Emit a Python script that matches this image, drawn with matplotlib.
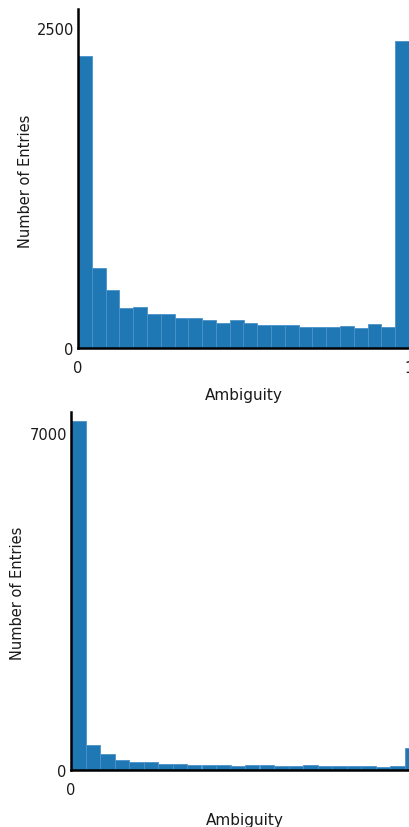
import numpy as np
import matplotlib
matplotlib.use("Agg")
import matplotlib.pyplot as plt

# ambiguity histograms, 24 bins between 0 and 1
edges = np.linspace(0, 1, 25)
top_counts = [2286, 625, 455, 315, 320, 265, 265, 234, 234, 216, 198, 216,
              192, 177, 180, 177, 166, 166, 166, 170, 156, 190, 166, 2403]
bottom_counts = [7250, 520, 330, 215, 165, 160, 120, 120, 110, 95, 100, 90,
                 95, 95, 90, 90, 95, 80, 80, 75, 85, 70, 75, 460]
top_yticks = [0, 2500]
bottom_yticks = [0, 7000]
xlabel = "Ambiguity"
ylabel = "Number of Entries"

W, H = 409, 828
fig = plt.figure(figsize=(W / 100, H / 100), dpi=100)


def px_axes(left, top, right, bottom):
    return fig.add_axes([left / W, 1 - bottom / H, (right - left) / W, (bottom - top) / H])


def draw(ax, counts, yticks, ytop, ylab_x, xlab_y):
    centers = (edges[:-1] + edges[1:]) / 2
    ax.hist(centers, bins=edges, weights=counts, color="#1f77b4",
            edgecolor="#4a92c9", linewidth=0.6)
    ax.set_xlim(0, 1)
    ax.set_ylim(0, ytop)
    for s in ["top", "right"]:
        ax.spines[s].set_visible(False)
    for s in ["left", "bottom"]:
        ax.spines[s].set_linewidth(1.8)
        ax.spines[s].set_color("black")
        ax.spines[s].set_zorder(5)
    ax.set_xticks([0, 1])
    ax.set_xticklabels(["0", "1"])
    ax.set_yticks(yticks)
    ax.tick_params(axis="both", length=0, labelsize=10.5, labelcolor="#1a1a1a")
    ax.tick_params(axis="x", pad=9)
    ax.tick_params(axis="y", pad=3)
    ax.set_xlabel(xlabel, fontsize=11, color="#1a1a1a")
    ax.set_ylabel(ylabel, fontsize=10.5, color="#1a1a1a")
    ax.xaxis.label.set_va("center")
    ax.yaxis.label.set_va("center")
    ax.xaxis.set_label_coords(0.5, xlab_y)
    ax.yaxis.set_label_coords(ylab_x, 0.495)


ax1 = px_axes(78, 9.5, 409, 349)
draw(ax1, top_counts, top_yticks, 2656, -0.160, -0.138)

ax2 = px_axes(71, 413, 419, 771)
draw(ax2, bottom_counts, bottom_yticks, 7440, -0.155, -0.139)

fig.savefig("out.png", dpi=100)
